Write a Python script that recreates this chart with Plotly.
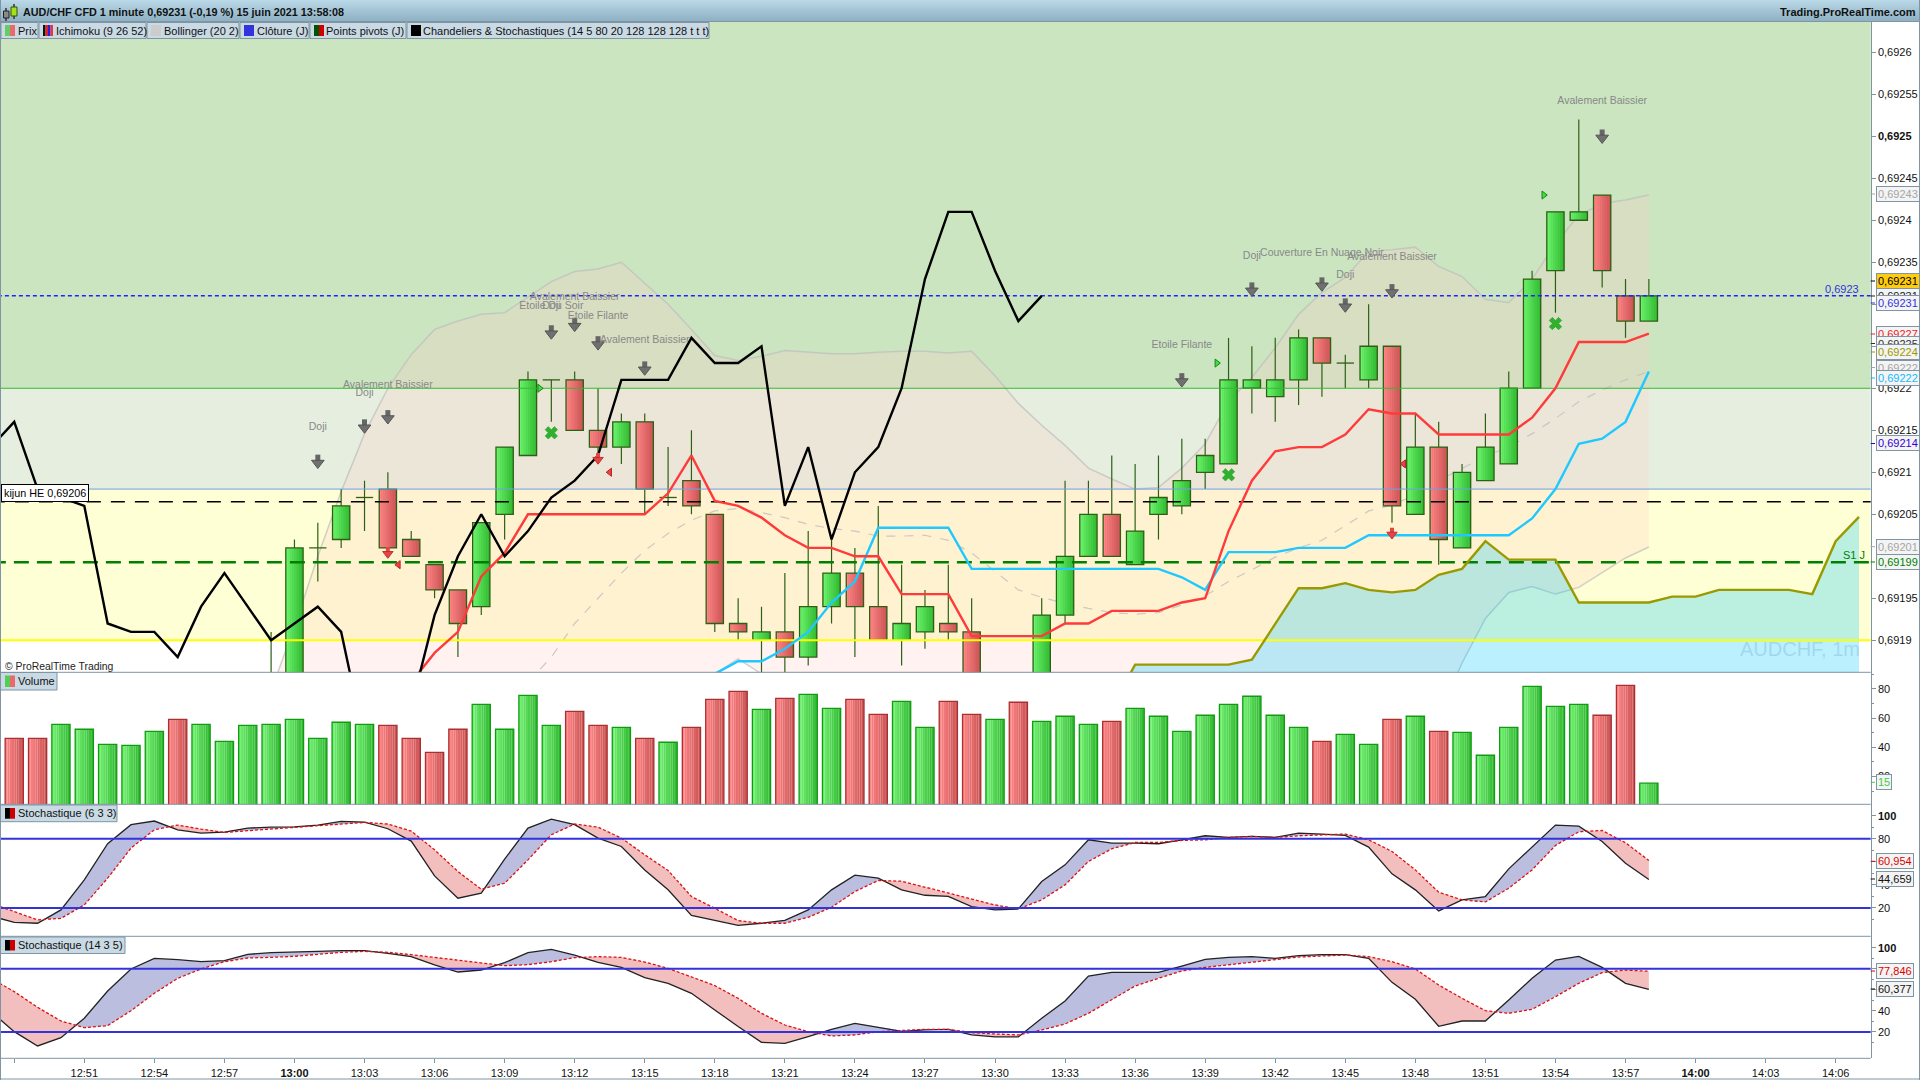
import numpy as np
import plotly.graph_objects as go

# x axis is minutes from 13:00, one candle per minute
tick_minutes = [-12, -9, -6, -3, 0, 3, 6, 9, 12, 15, 18, 21, 24, 27, 30, 33, 36, 39, 42, 45, 48, 51, 54, 57, 60, 63, 66]
tick_labels = ["", "12:51", "12:54", "12:57", "<b>13:00</b>", "13:03", "13:06", "13:09", "13:12", "13:15", "13:18",
               "13:21", "13:24", "13:27", "13:30", "13:33", "13:36", "13:39", "13:42", "13:45", "13:48", "13:51",
               "13:54", "13:57", "<b>14:00</b>", "14:03", "14:06"]

price_ticks = [0.6926, 0.69255, 0.6925, 0.69245, 0.6924, 0.69235, 0.6923, 0.69225, 0.6922, 0.69215, 0.6921, 0.69205, 0.69195, 0.6919]
price_tick_labels = ["0,6926", "0,69255", "<b>0,6925</b>", "0,69245", "0,6924", "0,69235", "0,6923", "0,69225", "0,6922",
                     "0,69215", "0,6921", "0,69205", "0,69195", "0,6919"]

# candles, minute -1 to 58
candle_minutes = list(range(-1, 59))
opens = [0.69178, 0.69180, 0.69201, 0.69202, 0.69207, 0.69208, 0.69202, 0.69199, 0.69196, 0.69194, 0.69205, 0.69212,
         0.69221, 0.69221, 0.69215, 0.69213, 0.69216, 0.69207, 0.69209, 0.69205, 0.69192, 0.69190, 0.69191, 0.69188,
         0.69194, 0.69198, 0.69194, 0.69190, 0.69191, 0.69192, 0.69191, 0.69177, 0.69183, 0.69182, 0.69193, 0.69200,
         0.69205, 0.69199, 0.69205, 0.69206, 0.69210, 0.69211, 0.69220, 0.69219, 0.69221, 0.69226, 0.69223, 0.69221,
         0.69225, 0.69205, 0.69213, 0.69201, 0.69209, 0.69211, 0.69220, 0.69234, 0.69240, 0.69243, 0.69231, 0.69228]
closes = [0.69180, 0.69201, 0.69201, 0.69206, 0.69207, 0.69201, 0.69200, 0.69196, 0.69192, 0.69204, 0.69213, 0.69221,
          0.69221, 0.69215, 0.69213, 0.69216, 0.69208, 0.69207, 0.69206, 0.69192, 0.69191, 0.69191, 0.69188, 0.69194,
          0.69198, 0.69194, 0.69190, 0.69192, 0.69194, 0.69191, 0.69178, 0.69180, 0.69182, 0.69193, 0.69200, 0.69205,
          0.69200, 0.69203, 0.69207, 0.69209, 0.69212, 0.69221, 0.69221, 0.69221, 0.69226, 0.69223, 0.69223, 0.69225,
          0.69206, 0.69213, 0.69202, 0.69210, 0.69213, 0.69220, 0.69233, 0.69241, 0.69241, 0.69234, 0.69228, 0.69231]
highs = [0.69191, 0.69202, 0.69204, 0.69208, 0.69209, 0.69210, 0.69203, 0.69199, 0.69196, 0.69204, 0.69213, 0.69222,
         0.69221, 0.69222, 0.69220, 0.69217, 0.69217, 0.69213, 0.69215, 0.69205, 0.69195, 0.69194, 0.69198, 0.69203,
         0.69202, 0.69201, 0.69206, 0.69199, 0.69196, 0.69199, 0.69195, 0.69182, 0.69184, 0.69195, 0.69209, 0.69209,
         0.69212, 0.69211, 0.69212, 0.69214, 0.69214, 0.69226, 0.69225, 0.69226, 0.69227, 0.69226, 0.69224, 0.69230,
         0.69225, 0.69217, 0.69216, 0.69211, 0.69217, 0.69222, 0.69234, 0.69241, 0.69252, 0.69243, 0.69233, 0.69233]
lows = [0.69176, 0.69178, 0.69197, 0.69201, 0.69203, 0.69201, 0.69200, 0.69195, 0.69188, 0.69193, 0.69202, 0.69212,
        0.69216, 0.69215, 0.69212, 0.69211, 0.69205, 0.69206, 0.69205, 0.69191, 0.69190, 0.69186, 0.69186, 0.69187,
        0.69192, 0.69188, 0.69190, 0.69187, 0.69189, 0.69190, 0.69177, 0.69176, 0.69180, 0.69181, 0.69192, 0.69200,
        0.69200, 0.69199, 0.69202, 0.69205, 0.69208, 0.69211, 0.69217, 0.69216, 0.69218, 0.69219, 0.69220, 0.69220,
        0.69204, 0.69205, 0.69199, 0.69201, 0.69209, 0.69211, 0.69220, 0.69229, 0.69240, 0.69232, 0.69226, 0.69228]

# ichimoku
tenkan_minutes = list(range(5, 59))
tenkan = [0.69185, 0.691885, 0.69191, 0.691976, 0.692004, 0.69205, 0.69205, 0.69205, 0.69205, 0.69205, 0.69205, 0.692075,
          0.69212, 0.692066, 0.69206, 0.692046, 0.692025, 0.69201, 0.69201, 0.69200, 0.69200, 0.691955, 0.691955, 0.691955,
          0.691905, 0.691905, 0.691905, 0.691905, 0.69192, 0.69192, 0.691935, 0.691935, 0.691935, 0.691945, 0.69195, 0.69203,
          0.69209, 0.692125, 0.69213, 0.69213, 0.692145, 0.692175, 0.69217, 0.69217, 0.692145, 0.692145, 0.692145, 0.692145,
          0.692165, 0.69220, 0.692255, 0.692255, 0.692255, 0.692265]
kijun_minutes = list(range(18, 59))
kijun = [0.69186, 0.691875, 0.691875, 0.69189, 0.69191, 0.691945, 0.69197, 0.692034, 0.692034, 0.692034, 0.692034,
         0.691985, 0.691985, 0.691985, 0.691985, 0.691985, 0.691985, 0.691985, 0.691985, 0.691985, 0.691975, 0.69196,
         0.692005, 0.692005, 0.692005, 0.69201, 0.69201, 0.69201, 0.692025, 0.692025, 0.692025, 0.692025, 0.692025,
         0.692025, 0.692025, 0.692045, 0.69208, 0.692134, 0.69214, 0.69216, 0.69222]
senkou_minutes = list(range(35, 68))
senkou = [0.69182, 0.691871, 0.691871, 0.691871, 0.691871, 0.691871, 0.691877, 0.691919, 0.691962, 0.691962, 0.691968,
          0.69196, 0.691957, 0.69196, 0.691978, 0.691985, 0.692018, 0.691996, 0.691996, 0.691996, 0.691945, 0.691945,
          0.691945, 0.691945, 0.691952, 0.691952, 0.69196, 0.69196, 0.69196, 0.69196, 0.691955, 0.692018, 0.692047]
chikou_minutes = list(range(-13, 33))
chikou = [0.69213, 0.69216, 0.69208, 0.69207, 0.69206, 0.69192, 0.69191, 0.69191, 0.69188, 0.69194, 0.69198, 0.69194,
          0.69190, 0.69192, 0.69194, 0.69191, 0.69178, 0.69180, 0.69182, 0.69193, 0.69200, 0.69205, 0.69200, 0.69203,
          0.69207, 0.69209, 0.69212, 0.69221, 0.69221, 0.69221, 0.69226, 0.69223, 0.69223, 0.69225, 0.69206, 0.69213,
          0.69202, 0.69210, 0.69213, 0.69220, 0.69233, 0.69241, 0.69241, 0.69234, 0.69228, 0.69231]

# bollinger, minute -1 to 58
boll_upper = [0.69184, 0.691916, 0.69200, 0.692077, 0.692146, 0.69220, 0.69224, 0.69227, 0.69228, 0.692288, 0.69229, 0.692309,
              0.692327, 0.692339, 0.692342, 0.69235, 0.692325, 0.69230, 0.69227, 0.692239, 0.692233, 0.692238, 0.692245,
              0.692243, 0.692241, 0.692241, 0.692243, 0.692244, 0.692244, 0.692242, 0.692244, 0.692215, 0.692182, 0.692156,
              0.692132, 0.692105, 0.692092, 0.69208, 0.692082, 0.692105, 0.692134, 0.692184, 0.692213, 0.692248, 0.692288,
              0.692314, 0.692332, 0.692363, 0.692365, 0.692368, 0.692345, 0.692333, 0.692306, 0.692302, 0.69233, 0.692372,
              0.692406, 0.69242, 0.692424, 0.69243]
boll_middle_minutes = list(range(10, 59))
boll_middle = [0.69185, 0.69188, 0.69192, 0.69195, 0.69198, 0.692007, 0.692027, 0.692043, 0.692054, 0.692057, 0.692052,
               0.692046, 0.692038, 0.692033, 0.69203, 0.692024, 0.692024, 0.692025, 0.692019, 0.692004, 0.691982, 0.69196,
               0.691951, 0.691944, 0.691938, 0.691933, 0.691931, 0.691933, 0.691942, 0.691953, 0.69197, 0.691984, 0.691999,
               0.69201, 0.692019, 0.692037, 0.692054, 0.692061, 0.692073, 0.69209, 0.692105, 0.692119, 0.69213, 0.692146,
               0.692164, 0.692184, 0.692198, 0.69221, 0.69222]
boll_lower = [0.69170, 0.69170, 0.69171, 0.69172, 0.69173, 0.69174, 0.69175, 0.69176, 0.69177, 0.69178, 0.69179, 0.69180,
              0.69180, 0.69181, 0.69182, 0.69183, 0.69183, 0.69184, 0.69184, 0.69186, 0.691878, 0.69186, 0.69184, 0.69183,
              0.69182, 0.69181, 0.69181, 0.69180, 0.69180, 0.69180, 0.69179, 0.69179, 0.69178, 0.69178, 0.69178, 0.69178,
              0.69178, 0.69178, 0.69178, 0.69178, 0.69178, 0.69177, 0.69177, 0.69177, 0.69176, 0.69176, 0.69176, 0.69176,
              0.69175, 0.69176, 0.69181, 0.691873, 0.691926, 0.691957, 0.691964, 0.691955, 0.691963, 0.69198, 0.691998, 0.692011]

# pivot levels
level_pivot = 0.6922
level_r = 0.69208
level_s2 = 0.6919
level_close = 0.69231
level_kijun_he = 0.692065
level_s1 = 0.691993

# pattern markers
pattern_minutes = [1, 3, 4, 11, 12, 13, 15, 38, 41, 44, 45, 47, 56]
pattern_arrows = [0.692111, 0.692153, 0.692164, 0.692265, 0.692274, 0.692252, 0.692222, 0.692208, 0.692316, 0.692322, 0.692297, 0.692314, 0.692498]
text_minutes = [1, 3, 4, 11, 11, 12, 13, 15, 38, 41, 44, 45, 47, 56]
text_levels = [0.692154, 0.692194, 0.692203, 0.692298, 0.692298, 0.692308, 0.692286, 0.692257, 0.692251, 0.692357, 0.692361, 0.692334, 0.692356, 0.692542]
text_names = ["Doji", "Doji", "Avalement Baissier", "Etoile Du Soir", "Doji", "Avalement Baissier", "Etoile Filante",
              "Avalement Baissier", "Etoile Filante", "Doji", "Couverture En Nuage Noir", "Doji", "Avalement Baissier", "Avalement Baissier"]
stoch_up_minutes = [10.5, 39.5, 53.5]
stoch_up_levels = [0.6922, 0.69223, 0.69243]
stoch_dn_minutes = [4.45, 13.5, 47.5]
stoch_dn_levels = [0.69199, 0.6921, 0.69211]
red_arrow_minutes = [4, 13, 47]
red_arrow_levels = [0.692003, 0.692115, 0.692026]
cross_minutes = [11, 40, 54]
cross_levels = [0.692147, 0.692097, 0.692277]

# volume, minute -12 to 58
volume_minutes = list(range(-12, 59))
volume = [46.2, 46.2, 55.8, 52.4, 42, 41.4, 51, 59.2, 55.8, 44.1, 55.1, 55.8, 59.2, 46.2, 57.2, 55.8, 55.1, 46.2, 36.6, 52.4,
          69.5, 52.4, 75.6, 55.1, 64.7, 55.1, 53.7, 46.2, 43.5, 53.7, 72.9, 78.4, 66, 73.6, 76.3, 66.7, 72.9, 62.6, 71.5, 53.7,
          71.5, 62.6, 59.2, 70.9, 57.8, 61.3, 55.8, 57.8, 66.7, 61.3, 51, 62, 69.5, 75, 62, 53.7, 44.1, 48.9, 42, 59.2,
          61.3, 51, 50.3, 34.6, 53.7, 81.8, 68.1, 69.5, 62, 82.5, 15.5]
volume_up = [0, 0, 1, 1, 1, 1, 1, 0, 1, 1, 1, 1, 1, 1, 1, 1, 0, 0, 0, 0,
             1, 1, 1, 1, 0, 0, 1, 0, 1, 0, 0, 0, 1, 0, 1, 1, 0, 0, 1, 1,
             0, 0, 1, 0, 1, 1, 1, 0, 1, 1, 1, 1, 1, 1, 1, 1, 0, 1, 1, 0,
             1, 0, 1, 1, 1, 1, 1, 1, 0, 0, 1]

# stochastics, minute -13 to 58
stoch_minutes = list(range(-13, 59))
k1 = [13.0, 7.5, 6.7, 18.3, 44.3, 75.7, 92.2, 95.4, 87.8, 84.9, 85.8, 89.3, 90.1, 90.4, 91.9, 95.1, 94.5, 88.7, 78.0, 47.8,
      28.4, 32.8, 62.3, 89.3, 97.1, 92.2, 80.6, 73.3, 53.0, 35.7, 13.6, 9.0, 4.9, 6.7, 9.3, 18.3, 35.7, 48.4, 45.8, 35.7,
      31.0, 30.1, 21.2, 18.3, 19.1, 42.9, 57.4, 79.1, 76.2, 76.2, 75.7, 79.1, 82.6, 81.2, 82.0, 81.2, 84.9, 84.1, 82.9, 72.8,
      49.6, 35.7, 17.4, 27.0, 29.9, 53.9, 73.3, 91.9, 91.0, 77.7, 58.8, 44.7]
d1 = [24.1, 16.8, 9.6, 11.0, 22.6, 45.8, 71.9, 87.8, 91.9, 88.4, 85.5, 87.0, 88.4, 90.1, 91.3, 93.0, 94.2, 92.8, 86.7, 70.4,
      51.6, 36.2, 41.4, 61.7, 83.5, 92.8, 90.1, 80.6, 66.1, 52.5, 29.9, 19.7, 9.0, 6.7, 6.7, 11.9, 20.6, 34.2, 43.8, 43.2,
      38.0, 32.8, 27.5, 22.6, 19.1, 27.0, 40.0, 60.3, 71.3, 76.8, 76.8, 78.6, 79.1, 81.2, 82.0, 81.2, 82.6, 83.5, 84.1, 79.1,
      69.0, 53.0, 33.6, 27.0, 25.2, 37.1, 53.0, 74.2, 86.1, 87.2, 76.5, 61.2]
k2 = [39.3, 20.3, 6.7, 14.6, 33.0, 58.9, 79.8, 89.9, 88.6, 86.7, 87.7, 93.7, 95.3, 95.6, 96.5, 97.2, 97.2, 94.6, 91.5, 83.6,
      76.9, 78.8, 85.8, 95.3, 98.4, 93.0, 86.1, 81.3, 71.5, 66.2, 56.7, 40.9, 25.1, 10.2, 9.2, 15.6, 22.5, 28.2, 24.4, 20.6,
      21.9, 22.5, 17.2, 15.3, 15.3, 33.0, 49.4, 73.1, 76.6, 76.6, 76.6, 82.6, 88.9, 90.8, 91.5, 89.9, 92.4, 93.4, 93.4, 89.9,
      67.1, 51.0, 25.4, 30.4, 30.4, 50.4, 70.9, 88.3, 91.8, 81.3, 66.2, 60.5]
d2 = [70.9, 58.3, 43.4, 30.4, 24.1, 26.0, 40.2, 56.7, 70.9, 79.8, 86.7, 90.2, 90.8, 91.8, 93.7, 95.6, 96.5, 95.6, 93.4, 90.8,
      88.3, 85.1, 82.9, 83.9, 86.7, 90.5, 91.5, 90.8, 86.4, 80.4, 72.5, 64.0, 51.9, 37.7, 26.6, 20.3, 16.2, 17.2, 20.3, 21.3,
      22.5, 22.5, 19.4, 18.1, 17.2, 21.9, 27.6, 37.7, 50.4, 63.6, 70.9, 77.9, 81.3, 83.9, 86.4, 89.2, 91.1, 92.1, 93.0, 91.5,
      86.7, 79.8, 64.6, 51.9, 40.2, 37.7, 41.5, 53.5, 66.2, 76.3, 78.8, 77.6]

W, H = 1920, 1080
AXIS_X = 1870.7
FONT = "Liberation Sans"
FRAME = "#7F95A3"
PRICE_RANGE = [0.6918619, 0.692636]
TOP = "y5"  # same scale as y, overlaid so candles and lines sit above the scatter fills


def px(x):
    return x / W


def py(y):
    return 1 - y / H


def lerp(c0, c1, t):
    a = [int(c0[i:i + 2], 16) for i in (1, 3, 5)]
    b = [int(c1[i:i + 2], 16) for i in (1, 3, 5)]
    return "rgb(%d,%d,%d)" % tuple(a[i] + (b[i] - a[i]) * t for i in range(3))


fig = go.Figure()

shapes = []
annotations = []


def rect(x0, y0, x1, y1, fill, line=None, lw=1):
    shapes.append(dict(type="rect", xref="paper", yref="paper", x0=px(x0), x1=px(x1), y0=py(y0), y1=py(y1),
                       fillcolor=fill, line=dict(color=line or fill, width=lw if line else 0), layer="above"))


def label(x, y, text, size=11, color="black", anchor="left", **kw):
    # annotations pad their text by about 2px, boxed ones keep it
    if "bgcolor" not in kw:
        x = x - 2 if anchor == "left" else x + 2
    annotations.append(dict(xref="paper", yref="paper", x=px(x), y=py(y), text=text, showarrow=False, xanchor=anchor,
                            yanchor="middle", font=dict(family=FONT, size=size, color=color), **kw))


# coloured zones of the price panel
for y0, y1, col in [(level_pivot, 0.6927, "#CBE5C1"), (level_r, level_pivot, "#E6EFDF"), (level_s2, level_r, "#FFFFD5")]:
    shapes.append(dict(type="rect", xref="x domain", yref="y", x0=0, x1=1, y0=y0, y1=y1, fillcolor=col, line_width=0, layer="below"))

# bollinger + cloud
fig.add_trace(go.Scatter(x=candle_minutes, y=boll_lower, mode="lines", line=dict(color="rgba(190,190,190,0.7)", width=1.5)))
fig.add_trace(go.Scatter(x=candle_minutes, y=boll_upper, mode="lines", line=dict(color="rgba(190,190,190,0.7)", width=1.5),
                         fill="tonexty", fillcolor="rgba(255,205,201,0.25)"))
fig.add_trace(go.Scatter(x=boll_middle_minutes, y=boll_middle, mode="lines", line=dict(color="rgba(190,190,190,0.8)", width=1.2, dash="9px,9px")))
fig.add_trace(go.Scatter(x=senkou_minutes, y=senkou, mode="none", fill="tozeroy", fillcolor="rgba(0,199,255,0.267)"))

# candles: wicks, then body in strips for the left to right shading
wick_x, wick_y = [], []
for m, h, l in zip(candle_minutes, highs, lows):
    wick_x += [m, m, None]
    wick_y += [l, h, None]
fig.add_trace(go.Scatter(x=wick_x, y=wick_y, mode="lines", line=dict(color="#2D6015", width=1.2)))

BODY = 0.74
STRIPS = 8
body_x = [m for m, o, c in zip(candle_minutes, opens, closes) if o != c]
body_base = [min(o, c) for o, c in zip(opens, closes) if o != c]
body_h = [abs(c - o) for o, c in zip(opens, closes) if o != c]
body_up = [c > o for o, c in zip(opens, closes) if o != c]
fig.add_trace(go.Bar(x=body_x, y=body_h, base=body_base, yaxis=TOP, width=BODY, offset=-BODY / 2,
                     marker=dict(color=["#50D850" if u else "#E67070" for u in body_up], line_width=0)))
for i in range(STRIPS):
    t = i / (STRIPS - 1)
    cols = [lerp("#6CF26C", "#33BB33", t) if u else lerp("#FF8585", "#CC5555", t) for u in body_up]
    fig.add_trace(go.Bar(x=body_x, y=body_h, base=body_base, yaxis=TOP, width=BODY / STRIPS, offset=-BODY / 2 + i * BODY / STRIPS,
                         marker=dict(color=cols, line_width=0)))
fig.add_trace(go.Bar(x=body_x, y=body_h, base=body_base, yaxis=TOP, width=BODY, offset=-BODY / 2,
                     marker=dict(color="rgba(0,0,0,0)", line=dict(color="#2D6015", width=1.3))))
doji_x, doji_y = [], []
for m, o, c in zip(candle_minutes, opens, closes):
    if o == c:
        doji_x += [m - BODY / 2, m + BODY / 2, None]
        doji_y += [o, o, None]
fig.add_trace(go.Scatter(x=doji_x, y=doji_y, yaxis=TOP, mode="lines", line=dict(color="#2D6015", width=1.3)))

# pivot lines over the candles
xspan = [-13, 68]
for level, col, w, dash in [(level_pivot, "#33BB33", 1, "solid"), (level_r, "#6F9FE8", 1, "solid"), (level_s2, "#FFFF00", 2, "solid"),
                            (level_close, "#2222FF", 1.5, "4px,3px"), (level_kijun_he, "black", 1.6, "14px,10px"),
                            (level_s1, "#008000", 2.5, "15px,8px")]:
    fig.add_trace(go.Scatter(x=xspan, y=[level, level], yaxis=TOP, mode="lines", line=dict(color=col, width=w, dash=dash)))

# ichimoku lines
fig.add_trace(go.Scatter(x=senkou_minutes, y=senkou, yaxis=TOP, mode="lines", line=dict(color="#999900", width=2.4)))
fig.add_trace(go.Scatter(x=kijun_minutes, y=kijun, yaxis=TOP, mode="lines", line=dict(color="#1FC8FF", width=2.4)))
fig.add_trace(go.Scatter(x=tenkan_minutes, y=tenkan, yaxis=TOP, mode="lines", line=dict(color="#FF3A3A", width=2.4)))
fig.add_trace(go.Scatter(x=chikou_minutes, y=chikou, yaxis=TOP, mode="lines", line=dict(color="black", width=2.4)))

# pattern arrows and texts
fig.add_trace(go.Scatter(x=pattern_minutes, y=pattern_arrows, yaxis=TOP, mode="markers",
                         marker=dict(symbol="triangle-down", size=11, color="#707070", line=dict(color="#555555", width=1)),
                         error_y=dict(type="data", symmetric=False, array=[1e-5] * len(pattern_minutes),
                                      arrayminus=[0] * len(pattern_minutes), thickness=5, width=0, color="#666666")))
fig.add_trace(go.Scatter(x=red_arrow_minutes, y=red_arrow_levels, yaxis=TOP, mode="markers",
                         marker=dict(symbol="triangle-down", size=9, color="#E64545", line=dict(color="#C03030", width=1)),
                         error_y=dict(type="data", symmetric=False, array=[0.8e-5] * 3, arrayminus=[0] * 3,
                                      thickness=4, width=0, color="#E64545")))
fig.add_trace(go.Scatter(x=stoch_up_minutes, y=stoch_up_levels, yaxis=TOP, mode="markers",
                         marker=dict(symbol="triangle-right", size=7, color="#44DD44", line=dict(color="#118811", width=1))))
fig.add_trace(go.Scatter(x=stoch_dn_minutes, y=stoch_dn_levels, yaxis=TOP, mode="markers",
                         marker=dict(symbol="triangle-left", size=7, color="#E64545", line=dict(color="#BB2222", width=1))))
fig.add_trace(go.Scatter(x=cross_minutes, y=cross_levels, yaxis=TOP, mode="markers",
                         marker=dict(symbol="x", size=11, color="#2FB12F", line=dict(color="#1F9A1F", width=0.5))))
fig.add_trace(go.Scatter(x=text_minutes, y=text_levels, yaxis=TOP, mode="text", text=text_names, textposition="middle center",
                         textfont=dict(family=FONT, size=10.5, color="#888888")))

# volume
VOL = 0.78
for i in range(STRIPS):
    t = i / (STRIPS - 1)
    cols = [lerp("#70F070", "#33BB33", t) if u else lerp("#FF8585", "#CC5555", t) for u in volume_up]
    fig.add_trace(go.Bar(x=volume_minutes, y=volume, yaxis="y2", width=VOL / STRIPS, offset=-VOL / 2 + i * VOL / STRIPS,
                         marker=dict(color=cols, line_width=0)))
fig.add_trace(go.Bar(x=volume_minutes, y=volume, yaxis="y2", width=VOL, offset=-VOL / 2,
                     marker=dict(color="rgba(0,0,0,0)", line=dict(color=["#129A12" if u else "#A83030" for u in volume_up], width=1.3))))


def with_crossings(x, a, b):
    xs, aa, bb = [x[0]], [a[0]], [b[0]]
    for i in range(1, len(x)):
        d0, d1 = a[i - 1] - b[i - 1], a[i] - b[i]
        if d0 * d1 < 0:
            t = d0 / (d0 - d1)
            xs.append(x[i - 1] + t)
            v = a[i - 1] + t * (a[i] - a[i - 1])
            aa.append(v)
            bb.append(v)
        xs.append(x[i])
        aa.append(a[i])
        bb.append(b[i])
    return xs, np.array(aa), np.array(bb)


def add_stoch(k, d, axis):
    xs, ka, da = with_crossings(stoch_minutes, k, d)
    no_line = dict(width=0, color="rgba(0,0,0,0)")
    fig.add_trace(go.Scatter(x=xs, y=da.tolist(), yaxis=axis, mode="lines", line=no_line))
    fig.add_trace(go.Scatter(x=xs, y=np.maximum(ka, da).tolist(), yaxis=axis, mode="lines", line=no_line, fill="tonexty", fillcolor="#BCBEDF"))
    fig.add_trace(go.Scatter(x=xs, y=da.tolist(), yaxis=axis, mode="lines", line=no_line))
    fig.add_trace(go.Scatter(x=xs, y=np.minimum(ka, da).tolist(), yaxis=axis, mode="lines", line=no_line, fill="tonexty", fillcolor="#F2BEBE"))
    fig.add_trace(go.Scatter(x=stoch_minutes, y=k, yaxis=axis, mode="lines", line=dict(color="#222222", width=1.3)))
    fig.add_trace(go.Scatter(x=stoch_minutes, y=d, yaxis=axis, mode="lines", line=dict(color="#E01010", width=1.3, dash="3px,2px")))
    for lv in [80, 20]:
        fig.add_trace(go.Scatter(x=xspan, y=[lv, lv], yaxis=axis, mode="lines", line=dict(color="#3333DD", width=2)))


add_stoch(k1, d1, "y3")
add_stoch(k2, d2, "y4")

# title bar + legend row
TOP0, TOP1 = "#BAD8E7", "#8FB2C5"
for i in range(21):
    rect(0, i, W, i + 1, lerp(TOP0, TOP1, i / 20))
shapes.append(dict(type="line", xref="paper", yref="paper", x0=0, x1=1, y0=py(21.5), y1=py(21.5), line=dict(color=FRAME, width=1), layer="above"))
label(23, 12, "<b>AUD/CHF CFD 1 minute 0,69231 (-0,19 %) 15 juin 2021 13:58:08</b>", size=10.8, color="#111111")
label(1916, 12, "<b>Trading.ProRealTime.com</b>", size=11, color="#111111", anchor="right")
rect(6, 8, 6, 21, "#333333", "#333333")
rect(3.5, 11, 9, 18, "#8A8A8A", "#222222")
rect(14, 4, 14, 19, "#333333", "#333333")
rect(11, 7, 17, 16, "#A5E020", "#335500")

legend_boxes = [(1, 38, "Prix", 17.5), (39, 146, "Ichimoku (9 26 52)", 55.5), (147, 239, "Bollinger (20 2)", 163.5),
                (240, 309, "Clôture (J)", 256.7), (310, 406, "Points pivots (J)", 326.4),
                (407, 709, "Chandeliers &amp; Stochastiques (14 5 80 20 128 128 128 t t t)", 423.3)]
for x0, x1, txt, tx in legend_boxes:
    rect(x0, 22.5, x1, 38.5, "#C9DAE4", FRAME)
    label(tx, 30.5, txt, size=11, color="#111111")
for x0, x1, col in [(5, 10, "#66CC66"), (10, 15, "#E86A6A"), (43, 45.5, "#111111"), (45.5, 48, "#DD2222"), (48, 50.5, "#2222DD"),
                    (50.5, 53, "#EE3333"), (151, 161, "#CCCCCC"), (244, 254, "#3333DD"), (314, 319, "#005500"), (319, 324, "#CC0000"),
                    (411, 421, "#000000")]:
    rect(x0, 25, x1, 36, col)

for y0, y1, w, txt, icon in [(672.5, 690, 57, "Volume", ("#55CC55", "#E86A6A")), (805, 821.7, 117, "Stochastique (6 3 3)", ("#000000", "#CC0000")),
                             (937, 953.5, 125, "Stochastique (14 3 5)", ("#000000", "#CC0000"))]:
    rect(0.5, y0, w, y1, "#C9DAE4", FRAME)
    rect(5, y0 + 3, 10, y1 - 3, icon[0])
    rect(10, y0 + 3, 15, y1 - 3, icon[1])
    label(17.5, (y0 + y1) / 2, txt, size=11, color="#111111")

# panel borders
for y in [672.3, 804.3, 936.3, 1058.3, 1079]:
    x1 = 1 if y == 1079 else AXIS_X / W
    shapes.append(dict(type="line", xref="paper", yref="paper", x0=0, x1=x1, y0=py(y), y1=py(y), line=dict(color=FRAME, width=1), layer="above"))
for x in [0.5, 1919.5]:
    shapes.append(dict(type="line", xref="paper", yref="paper", x0=px(x), x1=px(x), y0=0, y1=1, line=dict(color=FRAME, width=1), layer="above"))

label(5, 666.5, "© ProRealTime Trading", size=10.4, color="#222222")
label(1860, 649, "AUDCHF, 1m", size=20, color="rgba(110,170,205,0.35)", anchor="right")
label(1859, 289, "0,6923", size=11, color="#3333DD", anchor="right")
label(1865, 555, "S1 J", size=11, color="#008000", anchor="right")
label(0.5, 492.5, "kijun HE 0,69206", size=10.8, color="black", bgcolor="white", bordercolor="black", borderwidth=1, borderpad=2)

# value boxes on the right scale: box centre y, text, colour, background
value_boxes = [(194, "0,69243", "#A5A5A5", "#F4F4F4"), (296, "0,69231", "#222222", "#F4F4F4"), (281, "0,69231", "black", "#FFCC11"),
               (303, "0,69231", "#3333DD", "#F4F4F4"), (334, "0,69227", "#EE2222", "#F4F4F4"), (343.5, "0,69225", "#333333", "#F4F4F4"),
               (352, "0,69224", "#999900", "#F4F4F4"), (367.5, "0,69222", "#A5A5A5", "#F4F4F4"), (378, "0,69222", "#11BBFF", "#F4F4F4"),
               (443.5, "0,69214", "#3300DD", "#F4F4F4"), (546.7, "0,69201", "#A5A5A5", "#F4F4F4"), (562, "0,69199", "#008000", "#F4F4F4"),
               (782.3, "15", "#44CC44", "#F4F4F4"), (861.3, "60,954", "#DD0000", "#F4F4F4"), (879, "44,659", "#111111", "#F4F4F4"),
               (971, "77,846", "#DD0000", "#F4F4F4"), (989, "60,377", "#111111", "#F4F4F4")]
for y, txt, col, bg in value_boxes:
    shapes.append(dict(type="line", xref="paper", yref="paper", x0=px(AXIS_X), x1=px(1875), y0=py(y), y1=py(y), line=dict(color=col, width=1), layer="above"))
    label(1876, y, txt, size=11, color=col, bgcolor=bg, bordercolor=FRAME, borderwidth=1, borderpad=1)


def dom(y0, y1):
    return [1 - y1 / H, 1 - y0 / H]


axis_font = dict(family=FONT, size=11, color="#111111")
def yaxis(y0, y1, rng, vals, text, minor=None):
    d = dict(domain=dom(y0, y1), range=rng, anchor="x", side="right", showgrid=False, zeroline=False, showline=True,
             linecolor=FRAME, linewidth=1, ticks="outside", ticklen=4, tickcolor=FRAME, tickmode="array", tickvals=vals,
             ticktext=text, tickfont=axis_font)
    if minor:
        d["minor"] = dict(tickmode="array", tickvals=minor, ticks="outside", ticklen=2, tickcolor=FRAME)
    return d


tens = [10, 30, 50, 70, 90]
fig.update_layout(
    width=W, height=H, autosize=False, margin=dict(l=0, r=0, t=0, b=0, pad=0),
    paper_bgcolor="white", plot_bgcolor="white", showlegend=False, barmode="overlay",
    xaxis=dict(domain=[0, AXIS_X / W], range=[-12.61, 67.5], anchor="y4", tickmode="array", tickvals=tick_minutes,
               ticktext=tick_labels, ticks="outside", ticklen=4, tickcolor=FRAME, tickfont=axis_font, showgrid=False,
               zeroline=False, showline=False),
    yaxis=yaxis(22, 672.3, PRICE_RANGE, price_ticks, price_tick_labels),
    yaxis2=yaxis(672.3, 804.3, [1, 91.4], [20, 40, 60, 80], ["20", "40", "60", "80"], tens),
    yaxis3=yaxis(804.3, 936.3, [-4.6, 109.9], [20, 40, 60, 80, 100], ["20", "40", "60", "80", "<b>100</b>"], tens),
    yaxis4=yaxis(936.3, 1058.3, [-5, 110.8], [20, 40, 60, 80, 100], ["20", "40", "60", "80", "<b>100</b>"], tens),
    yaxis5=dict(domain=dom(22, 672.3), range=PRICE_RANGE, overlaying="y", anchor="x", side="right", visible=False),
    shapes=shapes, annotations=annotations,
)

fig.write_html("out.html", config={"displayModeBar": False}, post_script="document.body.style.margin='0';")
